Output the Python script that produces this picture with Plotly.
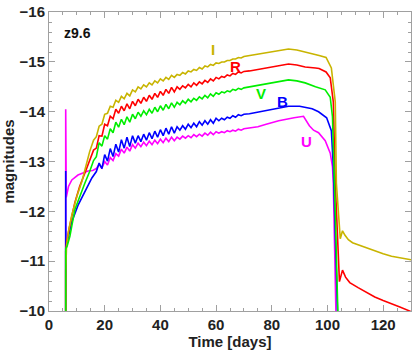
import plotly.graph_objects as go

# light curves of model z9.6, UBVRI (days, magnitudes)
osc_days = list(range(18, 71))

I_t0 = [6.0, 6.0, 6.3, 7, 8.2, 10, 11.8, 14.6, 16, 17]
I_m0 = [-9, -10.8, -11.3, -11.6, -11.93, -12.3, -12.6, -13.2, -13.43, -13.50]
I_osc = [-13.71, -13.75, -13.95, -13.97, -14.11, -14.09, -14.23, -14.19, -14.31, -14.26,
         -14.37, -14.32, -14.44, -14.40, -14.50, -14.46, -14.54, -14.50, -14.58, -14.54,
         -14.62, -14.58, -14.66, -14.62, -14.69, -14.65, -14.73, -14.69, -14.75, -14.73,
         -14.79, -14.76, -14.82, -14.80, -14.85, -14.83, -14.89, -14.86, -14.92, -14.90,
         -14.95, -14.93, -14.98, -14.97, -15.00, -15.00, -15.03, -15.03, -15.06, -15.06,
         -15.09, -15.08, -15.11]
I_t1 = [72, 75, 78, 82.5, 86, 89, 92, 95.7, 97, 99.5, 101.4, 102.8, 103.2, 104.6, 105.4,
        106.3, 107.5, 109, 111, 114, 117, 120, 123, 126, 130]
I_m1 = [-15.13, -15.16, -15.19, -15.24, -15.26, -15.24, -15.2, -15.16, -15.13, -15.09, -14.88,
        -14.2, -12.57, -11.45, -11.61, -11.52, -11.43, -11.37, -11.33, -11.26, -11.2, -11.15,
        -11.1, -11.07, -11.03]

R_t0 = [6.0, 6.0, 6.4, 7.2, 9.3, 11, 12.9, 14.6, 16, 17]
R_m0 = [-9, -11.2, -11.4, -11.65, -12.18, -12.5, -12.77, -13.03, -13.23, -13.27]
R_osc = [-13.52, -13.51, -13.75, -13.72, -13.91, -13.86, -14.05, -13.97, -14.11, -14.02,
         -14.16, -14.06, -14.21, -14.12, -14.25, -14.17, -14.29, -14.21, -14.33, -14.25,
         -14.37, -14.29, -14.41, -14.33, -14.45, -14.37, -14.49, -14.40, -14.50, -14.45,
         -14.52, -14.48, -14.55, -14.50, -14.58, -14.53, -14.60, -14.56, -14.63, -14.59,
         -14.66, -14.62, -14.69, -14.66, -14.71, -14.69, -14.74, -14.72, -14.77, -14.75,
         -14.80, -14.78, -14.81]
R_t1 = [72, 75, 78, 82.5, 86, 89, 92, 95.7, 97, 99.5, 101, 102.1, 102.8, 104.3, 105.4,
        106.5, 108, 111, 114, 117, 120, 123, 126, 130]
R_m1 = [-14.82, -14.85, -14.88, -14.92, -14.96, -14.94, -14.9, -14.88, -14.87, -14.8, -14.68,
        -14.2, -12.57, -10.59, -10.82, -10.68, -10.57, -10.47, -10.37, -10.28, -10.21, -10.15,
        -10.08, -9.99]

V_t0 = [6.0, 6.0, 6.5, 7.5, 9.3, 11, 12.9, 14.6, 16, 17]
V_m0 = [-9, -11.25, -11.3, -11.5, -12.04, -12.3, -12.57, -12.8, -13.02, -13.10]
V_osc = [-13.38, -13.31, -13.52, -13.45, -13.66, -13.58, -13.79, -13.69, -13.85, -13.74,
         -13.90, -13.79, -13.95, -13.86, -13.99, -13.91, -14.02, -13.94, -14.05, -13.97,
         -14.09, -14.00, -14.12, -14.03, -14.15, -14.06, -14.18, -14.09, -14.19, -14.14,
         -14.22, -14.17, -14.25, -14.20, -14.27, -14.23, -14.30, -14.26, -14.33, -14.28,
         -14.36, -14.31, -14.38, -14.35, -14.40, -14.38, -14.42, -14.40, -14.45, -14.43,
         -14.47, -14.45, -14.48]
V_t1 = [72, 75, 78, 82.5, 86, 89, 92, 95.7, 97, 99.2, 101, 101.8, 102.5, 104.0, 104.2]
V_m1 = [-14.5, -14.53, -14.56, -14.6, -14.64, -14.62, -14.58, -14.5, -14.48, -14.44, -14.29,
        -13.9, -12.57, -10.0, -9.0]

B_t0 = [6.0, 6.0, 6.05, 6.8, 8.2, 10.4, 12.9, 15.4, 17]
B_m0 = [-9, -12.81, -11.24, -11.45, -11.79, -12.12, -12.38, -12.67, -12.80]
B_osc = [-12.97, -12.86, -13.14, -13.01, -13.26, -13.10, -13.35, -13.19, -13.44, -13.27,
         -13.49, -13.30, -13.52, -13.37, -13.52, -13.40, -13.55, -13.43, -13.58, -13.46,
         -13.61, -13.49, -13.64, -13.52, -13.67, -13.55, -13.70, -13.57, -13.70, -13.63,
         -13.72, -13.65, -13.75, -13.68, -13.77, -13.70, -13.80, -13.73, -13.82, -13.75,
         -13.84, -13.77, -13.87, -13.82, -13.87, -13.84, -13.89, -13.87, -13.92, -13.89,
         -13.94, -13.92, -13.95]
B_t1 = [72, 75, 78, 82.5, 86, 90, 92, 94.5, 96.8, 99.7, 101.4, 102.1, 103.6, 103.8]
B_m1 = [-13.96, -13.99, -14.02, -14.06, -14.11, -14.11, -14.09, -14.06, -14.0, -13.88, -13.62,
        -12.9, -10.0, -9.0]

U_t0 = [6.0, 6.0, 6.2, 7, 8.2, 10.4, 14, 15.7, 17]
U_m0 = [-9, -14.05, -12.28, -12.5, -12.63, -12.73, -12.81, -12.82, -12.86]
U_osc = [-12.94, -12.87, -13.00, -12.93, -13.08, -13.02, -13.16, -13.11, -13.25, -13.17,
         -13.29, -13.21, -13.34, -13.27, -13.37, -13.30, -13.39, -13.32, -13.41, -13.34,
         -13.43, -13.36, -13.45, -13.38, -13.47, -13.40, -13.49, -13.42, -13.49, -13.45,
         -13.51, -13.47, -13.52, -13.48, -13.54, -13.50, -13.55, -13.51, -13.57, -13.53,
         -13.59, -13.54, -13.60, -13.57, -13.60, -13.58, -13.62, -13.60, -13.63, -13.61,
         -13.65, -13.63, -13.66]
U_t1 = [72, 75, 78, 82.5, 88, 91.4, 93.5, 95, 96.8, 99.2, 101, 101.8, 102.1, 103.2, 103.4]
U_m1 = [-13.67, -13.70, -13.75, -13.82, -13.88, -13.91, -13.72, -13.63, -13.58, -13.42, -13.17,
        -12.9, -12.57, -10.0, -9.0]

bands = [
    ('U', U_t0, U_m0, U_osc, U_t1, U_m1, '#ff00ff', 92.5, -13.4),
    ('B', B_t0, B_m0, B_osc, B_t1, B_m1, '#0000ff', 83.9, -14.21),
    ('R', R_t0, R_m0, R_osc, R_t1, R_m1, '#ff0000', 66.8, -14.9),
    ('I', I_t0, I_m0, I_osc, I_t1, I_m1, '#c8b400', 58.9, -15.25),
    ('V', V_t0, V_m0, V_osc, V_t1, V_m1, '#00ee00', 76.1, -14.37),
]

fig = go.Figure()
for name, t0, m0, osc, t1, m1, col, lx, ly in bands:
    assert len(osc) == len(osc_days)
    fig.add_trace(go.Scatter(x=t0 + osc_days + t1, y=m0 + osc + m1,
                             mode='lines', name=name,
                             line=dict(color=col, width=1.6)))
    fig.add_annotation(x=lx, y=ly, text='<b>%s</b>' % name, showarrow=False,
                       font=dict(color=col, size=15))

fig.add_annotation(x=4.8, y=-15.59, text='<b>z9.6</b>', showarrow=False, xanchor='left',
                   font=dict(color='#111', size=14))

axis = dict(showline=True, linecolor='#a0a0a0', linewidth=1, mirror='ticks',
            ticks='inside', ticklen=6, tickcolor='#a0a0a0', showgrid=False, zeroline=False,
            tickfont=dict(size=15, color='#222', weight='bold'))

fig.update_xaxes(range=[0, 130], dtick=20,
                 minor=dict(dtick=5, ticks='inside', ticklen=3, tickcolor='#a0a0a0'),
                 title=dict(text='<b>Time [days]</b>', font=dict(size=15, color='#222'), standoff=4),
                 **axis)
fig.update_yaxes(range=[-10, -16.003], dtick=1, ticklabeloverflow='allow',
                 minor=dict(dtick=0.2, ticks='inside', ticklen=3, tickcolor='#a0a0a0'),
                 title=dict(text='<b>magnitudes</b>', font=dict(size=15, color='#222'), standoff=6),
                 **axis)

fig.update_layout(width=415, height=353, showlegend=False,
                  plot_bgcolor='white', paper_bgcolor='white',
                  font=dict(family='Liberation Sans, Arial, sans-serif'),
                  margin=dict(l=49, r=3, t=7, b=42))

fig.write_html("out.html", config={'displayModeBar': False},
               post_script="document.body.style.margin='0';")
